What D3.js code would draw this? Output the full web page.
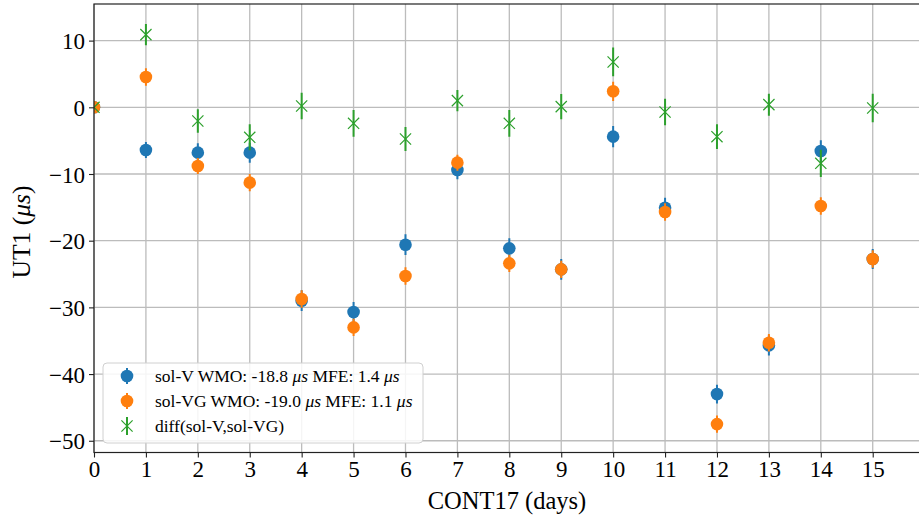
<!DOCTYPE html>
<html>
<head>
<meta charset="utf-8">
<script src="https://cdn.jsdelivr.net/npm/d3@7"></script>
<style>
  body { margin: 0; background: #fff; }
  text { font-family: "Liberation Serif", "DejaVu Serif", serif; fill: #000; }
</style>
</head>
<body>
<div id="chart"></div>
<script>
// CONT17 days
const days = [0, 1, 2, 3, 4, 5, 6, 7, 8, 9, 10, 11, 12, 13, 14, 15];

// sol-V UT1 (us) and formal errors
const solV = [0, -6.4, -6.8, -6.8, -29.0, -30.7, -20.6, -9.4, -21.15, -24.3, -4.4, -15.05, -43.0, -35.7, -6.55, -22.75];
const solVErr = [0, 1.2, 1.4, 1.5, 1.55, 1.5, 1.55, 1.4, 1.5, 1.55, 1.6, 1.5, 1.4, 1.5, 1.6, 1.5];

// sol-VG UT1 (us) and formal errors
const solVG = [0, 4.54, -8.8, -11.3, -28.75, -33.0, -25.3, -8.3, -23.4, -24.3, 2.4, -15.7, -47.5, -35.3, -14.8, -22.75];
const solVGErr = [0, 1.3, 1.2, 1.3, 1.3, 1.3, 1.3, 1.2, 1.3, 1.3, 1.45, 1.3, 1.3, 1.3, 1.3, 1.3];

// diff(sol-V, sol-VG)
const diffVals = [0, 10.9, -2.05, -4.5, 0.2, -2.4, -4.75, 1.0, -2.4, 0.1, 6.8, -0.7, -4.4, 0.4, -8.4, -0.1];
const diffErr = [0, 1.6, 1.75, 1.95, 2.0, 2.0, 1.8, 1.6, 2.0, 1.9, 2.15, 2.0, 1.85, 1.65, 2.05, 2.15];

const xTicks = d3.range(0, 16);
const yTicks = [-50, -40, -30, -20, -10, 0, 10];

const legendItems = [
    {label: ["sol-V WMO: -18.8 ", "μs", " MFE: 1.4 ", "μs"], color: "#1f77b4", kind: "dot"},
    {label: ["sol-VG WMO: -19.0 ", "μs", " MFE: 1.1 ", "μs"], color: "#ff7f0e", kind: "dot"},
    {label: ["diff(sol-V,sol-VG)"], color: "#2ca02c", kind: "x"}
];

const W = 919, H = 517;
const plot = {left: 94, top: 4, right: 921, bottom: 452.5};

const svg = d3.select("#chart").append("svg")
    .attr("width", W)
    .attr("height", H);

const x = d3.scaleLinear().domain([0, 15.93]).range([plot.left, plot.right]);
const y = d3.scaleLinear().domain([-51.76, 15.49]).range([plot.bottom, plot.top]);

svg.append("defs").append("clipPath")
    .attr("id", "plot-clip")
    .append("rect")
    .attr("x", plot.left).attr("y", plot.top)
    .attr("width", plot.right - plot.left).attr("height", plot.bottom - plot.top);

// grid
const grid = svg.append("g").attr("class", "grid");
grid.selectAll(".vgrid").data(xTicks).enter().append("line")
    .attr("x1", d => x(d)).attr("x2", d => x(d))
    .attr("y1", plot.top).attr("y2", plot.bottom)
    .attr("stroke", "#bcbcbc").attr("stroke-width", 1.3);
grid.selectAll(".hgrid").data(yTicks).enter().append("line")
    .attr("x1", plot.left).attr("x2", plot.right)
    .attr("y1", d => y(d)).attr("y2", d => y(d))
    .attr("stroke", "#bcbcbc").attr("stroke-width", 1.3);

// data layer
const layer = svg.append("g").attr("clip-path", "url(#plot-clip)");

function drawDots(vals, errs, color) {
    const g = layer.append("g");
    g.selectAll("line").data(days).enter().append("line")
        .attr("x1", d => x(d)).attr("x2", d => x(d))
        .attr("y1", (d, i) => y(vals[i] - errs[i]))
        .attr("y2", (d, i) => y(vals[i] + errs[i]))
        .attr("stroke", color).attr("stroke-width", 2);
    g.selectAll("circle").data(days).enter().append("circle")
        .attr("cx", d => x(d))
        .attr("cy", (d, i) => y(vals[i]))
        .attr("r", 6.3)
        .attr("fill", color);
}

function xMark(g, cx, cy, s, color) {
    g.append("path")
        .attr("d", `M${cx - s},${cy - s}L${cx + s},${cy + s}M${cx - s},${cy + s}L${cx + s},${cy - s}`)
        .attr("stroke", color).attr("stroke-width", 1.2).attr("fill", "none");
}

drawDots(solV, solVErr, "#1f77b4");
drawDots(solVG, solVGErr, "#ff7f0e");

const gDiff = layer.append("g");
gDiff.selectAll("line").data(days).enter().append("line")
    .attr("x1", d => x(d)).attr("x2", d => x(d))
    .attr("y1", (d, i) => y(diffVals[i] - diffErr[i]))
    .attr("y2", (d, i) => y(diffVals[i] + diffErr[i]))
    .attr("stroke", "#2ca02c").attr("stroke-width", 2);
days.forEach((d, i) => xMark(gDiff, x(d), y(diffVals[i]), 5.6, "#2ca02c"));

// spines
svg.append("rect")
    .attr("x", plot.left).attr("y", plot.top)
    .attr("width", plot.right - plot.left).attr("height", plot.bottom - plot.top)
    .attr("fill", "none").attr("stroke", "#222").attr("stroke-width", 1.2);

// axes
const fmt = d => d < 0 ? "\u2212" + Math.abs(d) : String(d);
const xAxis = svg.append("g")
    .attr("transform", `translate(0,${plot.bottom})`)
    .call(d3.axisBottom(x).tickValues(xTicks).tickFormat(fmt).tickSize(5).tickPadding(3));
const yAxis = svg.append("g")
    .attr("transform", `translate(${plot.left},0)`)
    .call(d3.axisLeft(y).tickValues(yTicks).tickFormat(fmt).tickSize(5).tickPadding(4));

[xAxis, yAxis].forEach(a => {
    a.select(".domain").remove();
    a.selectAll(".tick line").attr("stroke", "#222").attr("stroke-width", 1.1);
    a.selectAll(".tick text")
        .attr("font-family", "'Liberation Serif', serif")
        .attr("font-size", 23)
        .attr("fill", "#000");
});
yAxis.selectAll(".tick text").attr("dy", "0.35em");

// axis labels
svg.append("text")
    .attr("x", 507).attr("y", 509)
    .attr("text-anchor", "middle")
    .attr("font-size", 24.5)
    .text("CONT17 (days)");

const yl = svg.append("text")
    .attr("transform", "translate(30,232) rotate(-90)")
    .attr("text-anchor", "middle")
    .attr("font-size", 25.5);
yl.append("tspan").text("UT1 (");
yl.append("tspan").attr("font-style", "italic").text("μs");
yl.append("tspan").text(")");

// legend
const leg = svg.append("g");
leg.append("rect")
    .attr("x", 103).attr("y", 363)
    .attr("width", 320).attr("height", 80)
    .attr("rx", 4)
    .attr("fill", "#fff").attr("fill-opacity", 0.85)
    .attr("stroke", "#d0d0d0").attr("stroke-width", 1);

legendItems.forEach((item, i) => {
    const cy = 376 + i * 25;
    const cx = 127;
    if (item.kind === "dot") {
        leg.append("line")
            .attr("x1", cx).attr("x2", cx).attr("y1", cy - 8).attr("y2", cy + 8)
            .attr("stroke", item.color).attr("stroke-width", 2);
        leg.append("circle").attr("cx", cx).attr("cy", cy).attr("r", 6.3).attr("fill", item.color);
    } else {
        leg.append("line")
            .attr("x1", cx).attr("x2", cx).attr("y1", cy - 9).attr("y2", cy + 9)
            .attr("stroke", item.color).attr("stroke-width", 2);
        xMark(leg, cx, cy, 5.6, item.color);
    }
    const t = leg.append("text")
        .attr("x", 155).attr("y", cy + 6)
        .attr("font-size", 17.5);
    item.label.forEach((part, j) => {
        t.append("tspan")
            .attr("font-style", part === "μs" ? "italic" : null)
            .text(part);
    });
});
</script>
</body>
</html>
